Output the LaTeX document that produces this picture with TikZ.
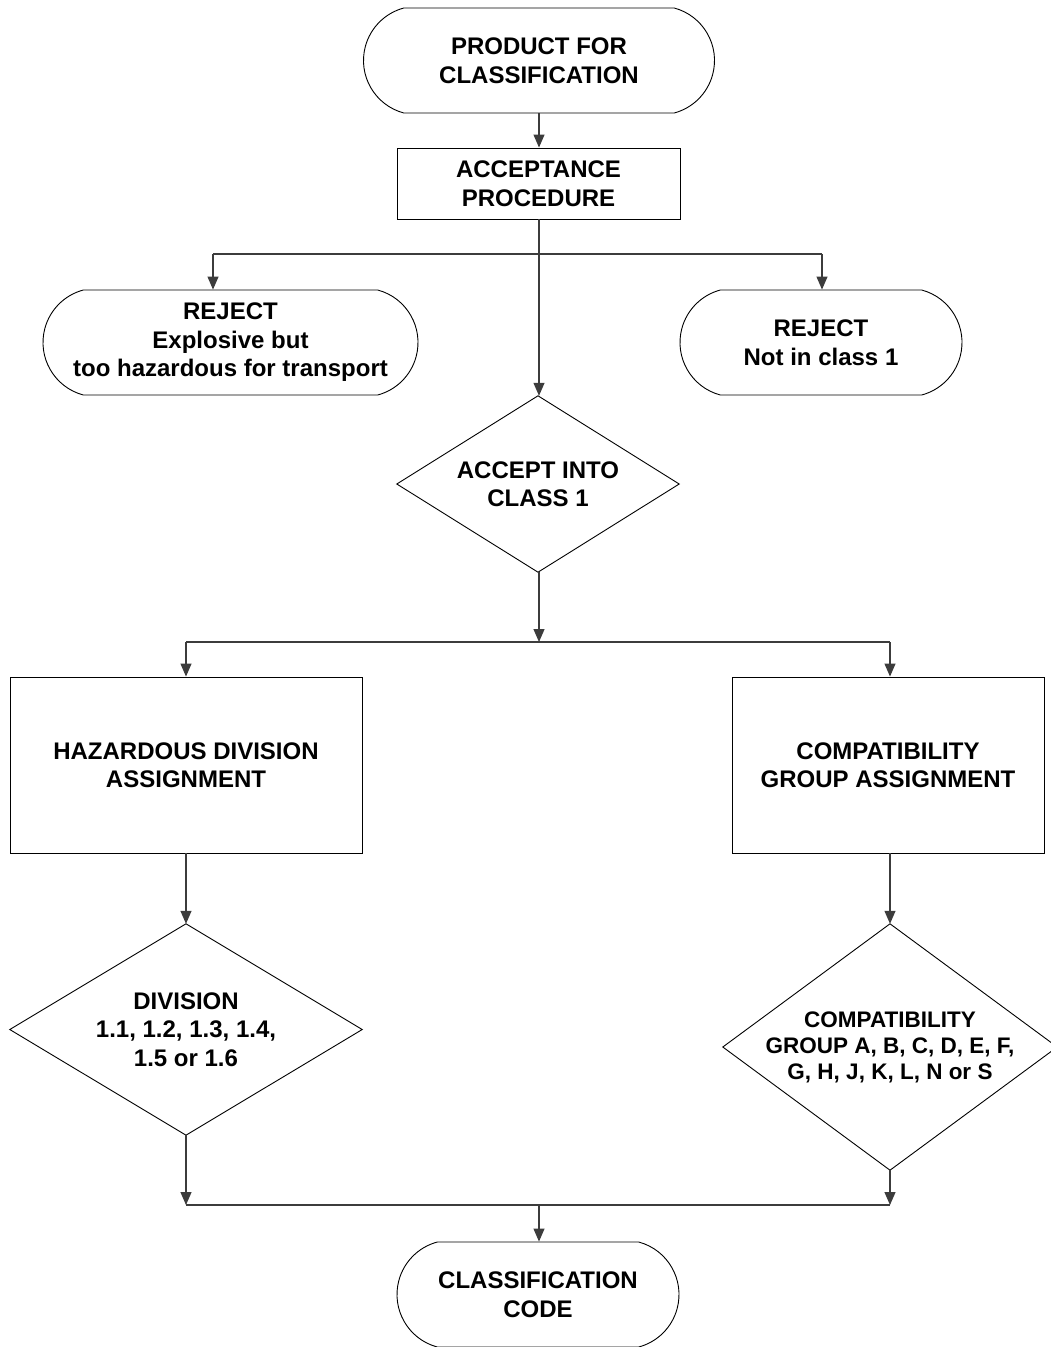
\documentclass[tikz,border=0pt]{standalone}
\usepackage{fontspec}
\setmainfont{Liberation Sans}
\usetikzlibrary{shapes.misc,arrows.meta}
\tikzset{
  lbl/.style={align=center,font={\fontsize{24}{28.5}\selectfont\bfseries},inner sep=0pt},
  term/.style={lbl,rounded rectangle,rounded rectangle arc length=150,draw=black,line width=0.9pt,fill=white},
  procbox/.style={lbl,rectangle,draw=black,line width=0.9pt,fill=white},
  diam/.style={lbl,rectangle},
  diamline/.style={draw=black,line width=0.9pt},
  conn/.style={draw={rgb,255:red,60;green,60;blue,60},line width=1.2pt},
  arr/.style={conn,-{Triangle[width=11pt,length=13pt]}}
}
\begin{document}
\begin{tikzpicture}[x=1pt,y=-1pt]
\useasboundingbox (0,0) rectangle (1051,1347);
% nodes
\node[term,minimum width=351pt,minimum height=105pt] (top) at (539,60.5) {PRODUCT FOR\\CLASSIFICATION};
\node[procbox,minimum width=283pt,minimum height=71pt] (acc) at (538.5,183.5) {ACCEPTANCE\\PROCEDURE};
\node[term,minimum width=375pt,minimum height=105pt] (rejL) at (230.5,342.5) {REJECT\\Explosive but\\too hazardous for transport};
\node[term,minimum width=282pt,minimum height=105pt] (rejR) at (821,342.5) {REJECT\\Not in class 1};
\node[diam,minimum width=282pt,minimum height=176pt] (accD) at (538,484) {ACCEPT INTO\\CLASS 1};
\node[procbox,minimum width=352pt,minimum height=176pt] (haz) at (186,765) {HAZARDOUS DIVISION\\ASSIGNMENT};
\node[procbox,minimum width=312pt,minimum height=176pt] (cmp) at (888,765) {COMPATIBILITY\\GROUP ASSIGNMENT};
\node[diam,minimum width=352pt,minimum height=211pt] (divD) at (186,1029.5) {DIVISION\\1.1, 1.2, 1.3, 1.4,\\1.5 or 1.6};
\node[diam,minimum width=334pt,minimum height=246pt,font={\fontsize{22.5}{26}\selectfont\bfseries}] (cmpD) at (890,1047) {COMPATIBILITY\\GROUP A, B, C, D, E, F,\\G, H, J, K, L, N or S};
\node[term,minimum width=282pt,minimum height=105pt] (code) at (538,1294.5) {CLASSIFICATION\\CODE};
% diamond outlines
\foreach \d in {accD,divD,cmpD}
  \draw[diamline] (\d.north) -- (\d.east) -- (\d.south) -- (\d.west) -- cycle;
% junction coordinates
\coordinate (j1) at (539,254);
\coordinate (j1L) at (213,254);
\coordinate (j1R) at (822,254);
\coordinate (j2) at (539,642);
\coordinate (j2L) at (186,642);
\coordinate (j2R) at (890,642);
\coordinate (j3) at (539,1205);
\coordinate (j3L) at (186,1205);
\coordinate (j3R) at (890,1205);
% connectors
\draw[arr] (top.south -| j1) -- (acc.north -| j1);
\draw[arr] (acc.south -| j1) -- (accD.north -| j1);
\draw[conn] (j1L) -- (j1R);
\draw[arr] (j1L) -- (rejL.north -| j1L);
\draw[arr] (j1R) -- (rejR.north -| j1R);
\draw[arr] (accD.south -| j2) -- (j2);
\draw[conn] (j2L) -- (j2R);
\draw[arr] (j2L) -- (haz.north -| j2L);
\draw[arr] (j2R) -- (cmp.north -| j2R);
\draw[arr] (haz.south -| j2L) -- (divD.north -| j2L);
\draw[arr] (cmp.south -| j2R) -- (cmpD.north -| j2R);
\draw[arr] (divD.south -| j3L) -- (j3L);
\draw[arr] (cmpD.south -| j3R) -- (j3R);
\draw[conn] (j3L) -- (j3R);
\draw[arr] (j3) -- (code.north -| j3);
\end{tikzpicture}
\end{document}
